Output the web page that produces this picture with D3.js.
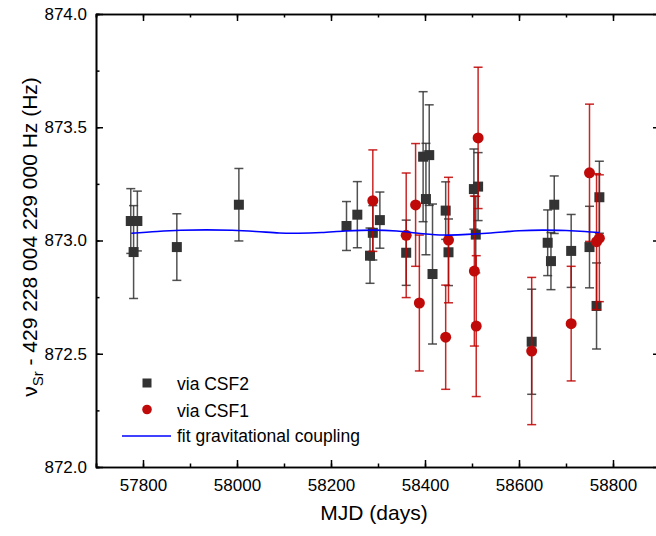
<!DOCTYPE html>
<html>
<head>
<meta charset="utf-8">
<script src="https://cdn.jsdelivr.net/npm/d3@7"></script>
<style>
  body { margin: 0; background: #fff; }
  text { font-family: "Liberation Sans", Arial, sans-serif; }
</style>
</head>
<body>
<div id="content"></div>
<script>
// CSF2 points (squares)
const csf2Mjd = [57774, 57780, 57788, 57872, 58004, 58233, 58256, 58283, 58289, 58304,
                 58360, 58396, 58402, 58409, 58416, 58444, 58450, 58504, 58508, 58513,
                 58627, 58661, 58668, 58675, 58711, 58750, 58765, 58771];
const csf2Val = [873.086, 872.949, 873.086, 872.971, 873.158, 873.064, 873.114, 872.933, 873.034, 873.090,
                 872.946, 873.370, 873.183, 873.377, 872.852, 873.132, 872.948, 873.227, 873.026, 873.238,
                 872.553, 872.990, 872.909, 873.158, 872.954, 872.971, 872.711, 873.191];
const csf2Err = [0.143, 0.205, 0.132, 0.147, 0.160, 0.108, 0.146, 0.122, 0.120, 0.124,
                 0.144, 0.287, 0.246, 0.222, 0.309, 0.127, 0.147, 0.177, 0.169, 0.150,
                 0.232, 0.145, 0.126, 0.127, 0.161, 0.180, 0.190, 0.159];

// CSF1 points (circles)
const csf1Mjd = [58289, 58360, 58380, 58388, 58444, 58450, 58505, 58509, 58513, 58627,
                 58711, 58750, 58765, 58771];
const csf1Val = [873.176, 873.023, 873.157, 872.724, 872.573, 873.002, 872.865, 872.622, 873.453, 872.512,
                 872.633, 873.299, 872.995, 873.010];
const csf1Err = [0.224, 0.275, 0.271, 0.300, 0.230, 0.277, 0.331, 0.311, 0.312, 0.325,
                 0.253, 0.303, 0.300, 0.280];

// fitted curve (gravitational coupling)
const fitMjd = [57775, 57830, 57880, 57935, 57990, 58040, 58090, 58130, 58180, 58230,
                58290, 58340, 58390, 58440, 58490, 58540, 58600, 58650, 58700, 58740, 58771];
const fitVal = [873.032, 873.040, 873.045, 873.047, 873.045, 873.040, 873.033, 873.032, 873.035, 873.042,
                873.046, 873.042, 873.031, 873.024, 873.027, 873.033, 873.043, 873.046, 873.044, 873.040, 873.035];

const xTicks = [57800, 58000, 58200, 58400, 58600, 58800];
const yTicks = [872.0, 872.5, 873.0, 873.5, 874.0];

const W = 656, H = 536;
const L = 96, R = 660, T = 14, B = 467;

const svg = d3.select("#content").append("svg")
    .attr("width", W).attr("height", H);

const x = d3.scaleLinear().domain([57700, 58900]).range([L, R]);
const y = d3.scaleLinear().domain([872, 874]).range([B, T]);

//////////////////// axes
const fmtY = d3.format(".1f");
function styleAxis(g) {
    g.select(".domain").attr("stroke", "#000").attr("stroke-width", 1.6);
    g.selectAll(".tick line").attr("stroke", "#000").attr("stroke-width", 1.5);
    g.selectAll(".tick text").attr("fill", "#000").style("font-size", "17px")
        .style("font-family", "'Liberation Sans', Arial, sans-serif");
}
const minorX = d3.range(57700, 58901, 100);
const minorY = d3.range(872, 874.001, 0.25);

// bottom
svg.append("g").attr("transform", `translate(0,${B})`)
    .call(d3.axisBottom(x).tickValues(minorX).tickSize(-3.5).tickFormat(""))
    .call(styleAxis);
svg.append("g").attr("transform", `translate(0,${B})`)
    .call(d3.axisBottom(x).tickValues(xTicks).tickSize(-7).tickSizeOuter(0).tickPadding(12).tickFormat(d3.format("d")))
    .call(styleAxis);
// top
svg.append("g").attr("transform", `translate(0,${T})`)
    .call(d3.axisTop(x).tickValues(minorX).tickSize(-3.5).tickFormat(""))
    .call(styleAxis);
svg.append("g").attr("transform", `translate(0,${T})`)
    .call(d3.axisTop(x).tickValues(xTicks).tickSize(-7).tickSizeOuter(0).tickFormat(""))
    .call(styleAxis);
// left
svg.append("g").attr("transform", `translate(${L},0)`)
    .call(d3.axisLeft(y).tickValues(minorY).tickSize(-3.5).tickFormat(""))
    .call(styleAxis);
svg.append("g").attr("transform", `translate(${L},0)`)
    .call(d3.axisLeft(y).tickValues(yTicks).tickSize(-7).tickSizeOuter(0).tickPadding(9).tickFormat(fmtY))
    .call(styleAxis);
// right
svg.append("g").attr("transform", `translate(${R},0)`)
    .call(d3.axisRight(y).tickValues(yTicks).tickSize(-7).tickSizeOuter(0).tickFormat(""))
    .call(styleAxis);

// axis titles
svg.append("text")
    .attr("x", (L + 656) / 2 - 2).attr("y", 520)
    .attr("text-anchor", "middle")
    .style("font-size", "21px")
    .text("MJD (days)");

const yt = svg.append("text")
    .attr("transform", "translate(37,237) rotate(-90)")
    .attr("text-anchor", "middle")
    .style("font-size", "21px");
yt.append("tspan").text("\u03bd");
yt.append("tspan").attr("dy", 6).style("font-size", "15px").text("Sr");
yt.append("tspan").attr("dy", -6).text(" - 429 228 004 229 000 Hz (Hz)");

//////////////////// data
const csf2 = csf2Mjd.map((m, i) => ({ m, v: csf2Val[i], e: csf2Err[i] }));
const csf1 = csf1Mjd.map((m, i) => ({ m, v: csf1Val[i], e: csf1Err[i] }));

const plot = svg.append("g");

function errorBars(data, color, opacity) {
    const g = plot.append("g").attr("stroke", color).attr("stroke-width", 1.5)
        .attr("stroke-opacity", opacity).attr("fill", "none");
    g.selectAll(".eb").data(data).enter().append("line")
        .attr("x1", d => x(d.m)).attr("x2", d => x(d.m))
        .attr("y1", d => y(d.v - d.e)).attr("y2", d => y(d.v + d.e));
    g.selectAll(".capTop").data(data).enter().append("line")
        .attr("x1", d => x(d.m) - 4.5).attr("x2", d => x(d.m) + 4.5)
        .attr("y1", d => y(d.v + d.e)).attr("y2", d => y(d.v + d.e));
    g.selectAll(".capBot").data(data).enter().append("line")
        .attr("x1", d => x(d.m) - 4.5).attr("x2", d => x(d.m) + 4.5)
        .attr("y1", d => y(d.v - d.e)).attr("y2", d => y(d.v - d.e));
}

errorBars(csf2, "#333", 0.85);
plot.selectAll(".sq").data(csf2).enter().append("rect")
    .attr("class", "sq")
    .attr("x", d => x(d.m) - 5).attr("y", d => y(d.v) - 5)
    .attr("width", 10).attr("height", 10)
    .attr("fill", "#333");

errorBars(csf1, "#c00000", 0.85);
plot.selectAll(".dot").data(csf1).enter().append("circle")
    .attr("class", "dot")
    .attr("cx", d => x(d.m)).attr("cy", d => y(d.v))
    .attr("r", 5.5)
    .attr("fill", "#c00a0a");

const fitLine = d3.line().curve(d3.curveCatmullRom)
    .x((d, i) => x(fitMjd[i])).y(d => y(d));
plot.append("path").datum(fitVal)
    .attr("d", fitLine)
    .attr("fill", "none").attr("stroke", "#0000ff").attr("stroke-width", 1.6);

//////////////////// legend
const lg = svg.append("g");
lg.append("rect").attr("x", 142.5).attr("y", 378.5).attr("width", 9).attr("height", 9).attr("fill", "#333");
lg.append("text").attr("x", 177).attr("y", 390).style("font-size", "17.5px").text("via CSF2");
lg.append("circle").attr("cx", 147).attr("cy", 409.5).attr("r", 4.8).attr("fill", "#c00a0a");
lg.append("text").attr("x", 177).attr("y", 416.5).style("font-size", "17.5px").text("via CSF1");
lg.append("line").attr("x1", 122).attr("x2", 171).attr("y1", 436).attr("y2", 436)
    .attr("stroke", "#0000ff").attr("stroke-width", 1.6);
lg.append("text").attr("x", 177).attr("y", 442).style("font-size", "17.5px").text("fit gravitational coupling");
</script>
</body>
</html>
